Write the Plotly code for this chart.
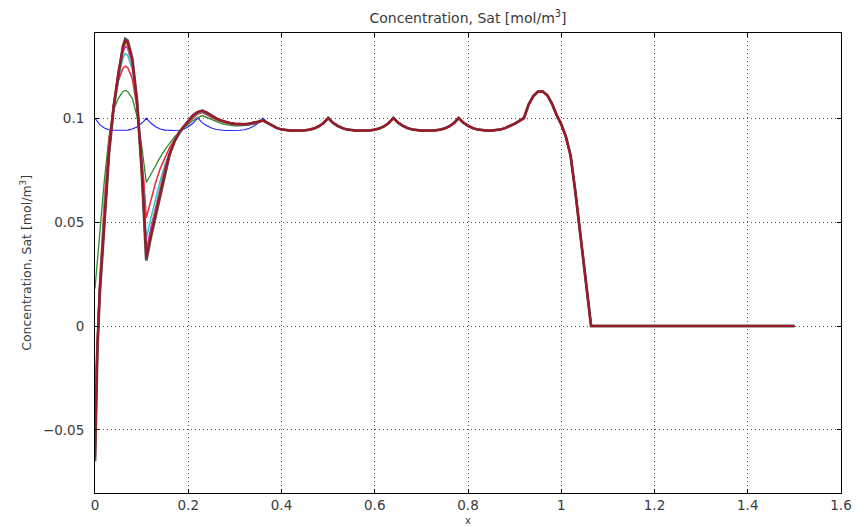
import plotly.graph_objects as go

# ---------------- data ----------------
x_head = [0, 0.005, 0.01, 0.02, 0.03, 0.04, 0.05, 0.06, 0.065, 0.07,
          0.08, 0.09, 0.10, 0.105, 0.11, 0.12, 0.13, 0.14, 0.15, 0.16,
          0.17, 0.18, 0.19, 0.20, 0.21, 0.22, 0.23, 0.24, 0.25, 0.26,
          0.27, 0.28, 0.29, 0.30, 0.31, 0.32, 0.33, 0.34, 0.35, 0.36,
          0.37, 0.38, 0.39]

y_blue = [0.1000, 0.0982, 0.0968, 0.0952, 0.0944, 0.0941, 0.0940, 0.0940, 0.0941, 0.0942,
          0.0947, 0.0957, 0.0974, 0.0985, 0.1000, 0.0975, 0.0958, 0.0947, 0.0942, 0.0940,
          0.0940, 0.0941, 0.0946, 0.0958, 0.0975, 0.1000, 0.0978, 0.0963, 0.0952, 0.0945,
          0.0941, 0.0940, 0.0940, 0.0940, 0.0941, 0.0944, 0.0950, 0.0960, 0.0976, 0.1000,
          0.0978, 0.0963, 0.0952]

y_green = [0.018, 0.032, 0.045, 0.070, 0.091, 0.104, 0.1095, 0.1128, 0.1133, 0.1128,
           0.1095, 0.1010, 0.0870, 0.0785, 0.0690, 0.0730, 0.0772, 0.0812, 0.0848, 0.0880,
           0.0908, 0.0932, 0.0952, 0.0970, 0.0987, 0.1002, 0.1012, 0.1003, 0.0992, 0.0982,
           0.0974, 0.0968, 0.0964, 0.0962, 0.0962, 0.0963, 0.0966, 0.0971, 0.0978, 0.0987,
           0.0975, 0.0962, 0.0952]

y_red = [-0.035, -0.005, 0.022, 0.060, 0.089, 0.107, 0.118, 0.1240, 0.1250, 0.1243,
         0.1190, 0.1050, 0.0830, 0.0690, 0.0520, 0.0610, 0.0690, 0.0758, 0.0812, 0.0858,
         0.0895, 0.0926, 0.0953, 0.0978, 0.1000, 0.1018, 0.1026, 0.1016, 0.1003, 0.0992,
         0.0983, 0.0976, 0.0971, 0.0968, 0.0967, 0.0967, 0.0969, 0.0973, 0.0979, 0.0987,
         0.0975, 0.0962, 0.0952]

y_cyan = [-0.045, -0.008, 0.019, 0.056, 0.086, 0.106, 0.120, 0.1290, 0.1310, 0.1302,
          0.1235, 0.1070, 0.0800, 0.0620, 0.0420, 0.0520, 0.0615, 0.0700, 0.0775, 0.0835,
          0.0883, 0.0922, 0.0954, 0.0982, 0.1005, 0.1022, 0.1030, 0.1020, 0.1006, 0.0995,
          0.0985, 0.0978, 0.0973, 0.0970, 0.0968, 0.0968, 0.0970, 0.0974, 0.0980, 0.0987,
          0.0975, 0.0962, 0.0952]

y_magenta = [-0.055, -0.010, 0.017, 0.054, 0.085, 0.106, 0.121, 0.1318, 0.1345, 0.1337,
             0.1260, 0.1080, 0.0780, 0.0580, 0.0360, 0.0470, 0.0570, 0.0670, 0.0760, 0.0830,
             0.0884, 0.0926, 0.0957, 0.0986, 0.1010, 0.1026, 0.1033, 0.1023, 0.1009, 0.0997,
             0.0987, 0.0979, 0.0974, 0.0971, 0.0969, 0.0969, 0.0971, 0.0975, 0.0981, 0.0988,
             0.0976, 0.0962, 0.0952]

y_olive = [-0.060, -0.011, 0.016, 0.053, 0.084, 0.105, 0.121, 0.1330, 0.1360, 0.1352,
           0.1272, 0.1082, 0.0770, 0.0565, 0.0340, 0.0450, 0.0550, 0.0655, 0.0750, 0.0828,
           0.0885, 0.0927, 0.0957, 0.0987, 0.1011, 0.1027, 0.1034, 0.1024, 0.1010, 0.0998,
           0.0988, 0.0980, 0.0975, 0.0972, 0.0970, 0.0970, 0.0972, 0.0976, 0.0982, 0.0989,
           0.0976, 0.0962, 0.0952]

y_grey = [-0.065, -0.012, 0.015, 0.052, 0.083, 0.105, 0.121, 0.1345, 0.1380, 0.1372,
          0.1285, 0.1085, 0.0760, 0.0550, 0.0315, 0.0430, 0.0530, 0.0640, 0.0740, 0.0825,
          0.0885, 0.0928, 0.0958, 0.0988, 0.1012, 0.1028, 0.1035, 0.1025, 0.1010, 0.0998,
          0.0988, 0.0980, 0.0975, 0.0972, 0.0970, 0.0970, 0.0972, 0.0976, 0.0982, 0.0989,
          0.0976, 0.0962, 0.0952]

y_final = [-0.063, -0.011, 0.016, 0.053, 0.084, 0.106, 0.122, 0.1340, 0.1372, 0.1364,
           0.1280, 0.1083, 0.0765, 0.0555, 0.0330, 0.0440, 0.0540, 0.0645, 0.0742, 0.0826,
           0.0886, 0.0929, 0.0959, 0.0989, 0.1013, 0.1029, 0.1036, 0.1026, 0.1011, 0.0999,
           0.0989, 0.0981, 0.0976, 0.0973, 0.0971, 0.0971, 0.0973, 0.0977, 0.0983, 0.0989,
           0.0976, 0.0962, 0.0952]

x_tail = [0.40, 0.41, 0.42, 0.43, 0.44, 0.45, 0.46, 0.47, 0.48, 0.49,
          0.50, 0.51, 0.52, 0.53, 0.54, 0.55, 0.56, 0.57, 0.58, 0.59,
          0.60, 0.61, 0.62, 0.63, 0.64, 0.65, 0.66, 0.67, 0.68, 0.69,
          0.70, 0.71, 0.72, 0.73, 0.74, 0.75, 0.76, 0.77, 0.78, 0.79,
          0.80, 0.81, 0.82, 0.83, 0.84, 0.85, 0.86, 0.87, 0.88, 0.89,
          0.90, 0.91, 0.92, 0.93, 0.94, 0.95, 0.96, 0.97, 0.98, 0.99,
          1.00, 1.01, 1.02, 1.03, 1.04, 1.05, 1.06, 1.064, 1.5]

y_tail = [0.0945, 0.0941, 0.0940, 0.0940, 0.0940, 0.0941, 0.0944, 0.0950, 0.0960, 0.0976,
          0.1000, 0.0978, 0.0963, 0.0952, 0.0945, 0.0941, 0.0940, 0.0940, 0.0940, 0.0941,
          0.0944, 0.0950, 0.0960, 0.0976, 0.1000, 0.0978, 0.0963, 0.0952, 0.0945, 0.0941,
          0.0940, 0.0940, 0.0940, 0.0941, 0.0944, 0.0950, 0.0960, 0.0976, 0.1000, 0.0978,
          0.0963, 0.0952, 0.0945, 0.0941, 0.0940, 0.0940, 0.0941, 0.0945, 0.0952, 0.0962,
          0.0973, 0.0986, 0.1000, 0.1065, 0.1105, 0.1127, 0.1128, 0.1110, 0.1070, 0.1015,
          0.0970, 0.0910, 0.0820, 0.0650, 0.0450, 0.0270, 0.0080, 0.0, 0.0]

x_tickvals = [0, 0.2, 0.4, 0.6, 0.8, 1.0, 1.2, 1.4, 1.6]
x_ticktext = ["0", "0.2", "0.4", "0.6", "0.8", "1", "1.2", "1.4", "1.6"]
y_tickvals = [-0.05, 0, 0.05, 0.1]
y_ticktext = ["\u22120.05", "0", "0.05", "0.1"]

series = [
    ("blue", y_blue, "#1f1fff", 1.1),
    ("green", y_green, "#2e8b2e", 1.3),
    ("red", y_red, "#e8283c", 1.5),
    ("cyan", y_cyan, "#30c8d0", 1.6),
    ("magenta", y_magenta, "#d02ad0", 1.8),
    ("olive", y_olive, "#b8b030", 2.0),
    ("grey", y_grey, "#505050", 2.8),
    ("final", y_final, "#a01828", 2.2),
]

fig = go.Figure()
for name, yh, color, w in series:
    fig.add_trace(go.Scatter(
        x=x_head + x_tail, y=yh + y_tail, mode="lines", name=name,
        line=dict(color=color, width=w), showlegend=False, hoverinfo="skip"))

font_family = "DejaVu Sans, Verdana, sans-serif"
text_color = "#3a3a3a"
axis_common = dict(
    showline=True, linecolor="black", linewidth=1, mirror="ticks",
    ticks="inside", ticklen=4, tickcolor="black",
    showgrid=True, gridcolor="#555555", gridwidth=1, griddash="1px,3px",
    zeroline=False, tickfont=dict(family=font_family, size=13.5, color=text_color),
)

fig.update_layout(
    width=864, height=527,
    margin=dict(l=95, r=14, t=33, b=34),
    paper_bgcolor="white", plot_bgcolor="white",
    title=dict(text="Concentration, Sat [mol/m<sup>3</sup>]",
               font=dict(family=font_family, size=14, color=text_color),
               x=0.5, xref="paper", xanchor="center",
               y=0.965, yref="container", yanchor="middle"),
    xaxis=dict(range=[0, 1.6], tickvals=x_tickvals, ticktext=x_ticktext,
               ticklabelstandoff=0, **axis_common),
    yaxis=dict(range=[-0.0803, 0.1409], tickvals=y_tickvals, ticktext=y_ticktext,
               ticklabelstandoff=7, **axis_common),
    annotations=[
        dict(text="Concentration, Sat [mol/m<sup>3</sup>]", textangle=-90,
             xref="paper", yref="paper", x=-0.0927, y=0.5,
             xanchor="center", yanchor="middle", showarrow=False,
             font=dict(family=font_family, size=12.5, color=text_color)),
        dict(text="x", xref="paper", yref="paper", x=0.5, y=-0.0587,
             xanchor="center", yanchor="middle", showarrow=False,
             font=dict(family=font_family, size=10, color=text_color)),
    ],
)

fig.write_html("out.html")
